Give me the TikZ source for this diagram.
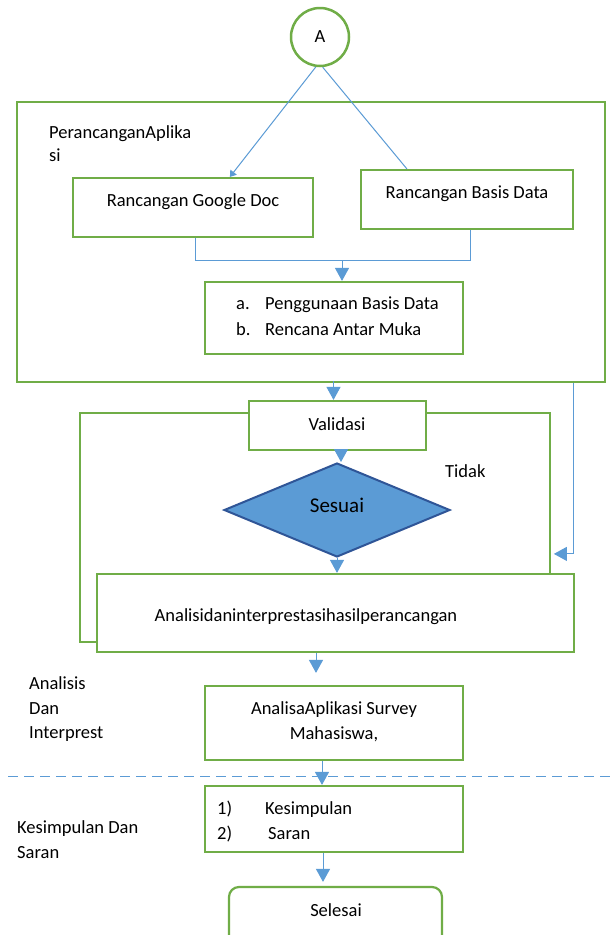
\documentclass[tikz,border=0pt]{standalone}
\usepackage{fontspec}
\setmainfont{Carlito}
\usetikzlibrary{shapes.geometric,arrows.meta,calc}
\definecolor{gr}{HTML}{70AD47}
\definecolor{bl}{HTML}{5B9BD5}
\definecolor{dbl}{HTML}{2F5597}
\begin{document}
\begin{tikzpicture}[x=1pt,y=-1pt,
  gbox/.style={draw=gr,line width=2.2pt,fill=white,rectangle,inner sep=0pt},
  gline/.style={draw=gr,line width=2.2pt},
  conn/.style={draw=bl,line width=1pt},
  arr/.style={conn,-{Triangle[width=14pt,length=13pt]}},
  txt/.style={font=\fontsize{18.5}{24}\selectfont,inner sep=0pt},
  ]
\clip (0,0) rectangle (614,935);
\fill[white] (0,0) rectangle (614,935);
% outer box
\node[gbox,fill=none,minimum width=588pt,minimum height=280pt] (outer) at (311,242) {};
% start circle
\node[circle,draw=gr,line width=2.5pt,fill=white,minimum size=58pt,inner sep=0pt,txt] (A) at (320,37) {A};
% boxes
\node[gbox,minimum width=240pt,minimum height=59pt] (gd) at (193,207.5) {};
\node[gbox,minimum width=212pt,minimum height=59pt] (bd) at (467,199.5) {};
\node[gbox,minimum width=258pt,minimum height=72pt] (list) at (334,318) {};
\node[gbox,minimum width=177pt,minimum height=49pt] (val) at (337.5,425.5) {};
\node[diamond,draw=dbl,line width=2pt,fill=bl,minimum width=226pt,minimum height=94pt,inner sep=0pt] (dia) at (337,510) {};
\node[gbox,minimum width=477pt,minimum height=78pt] (an) at (335.5,613) {};
\node[gbox,minimum width=258pt,minimum height=74pt] (aa) at (334,723) {};
\node[gbox,minimum width=258pt,minimum height=66pt] (ks) at (334,819) {};
\node[gbox,rounded corners=10pt,minimum width=213pt,minimum height=60pt] (sel) at (335.5,917) {};
% connectors
\draw[conn,-{Triangle[width=8pt,length=6pt]}] (A.262) -- ($(gd.north west)+(158,0)$);
\draw[conn] (A.275) -- ($(bd.north west)+(47,0)$);
\draw[conn] ($(gd.south)+(2,0)$) |- ($(bd.south)+(3,30)$) -- ($(bd.south)+(3,0)$);
\draw[arr] ($(list.north)+(8,-20)$) -- ($(list.north)+(8,0)$);
\draw[arr] ($(val.north)+(-4,-19)$) -- ($(val.north)+(-4,0)$);
\draw[arr] ($(val.south)+(3.5,0)$) -- ($(dia.north)+(4,0)$);
\draw[arr] (dia.south) -- (dia.south |- an.north);
\draw[arr] ($(outer.south west)+(558,0)$) |- ($(an.north west)+(458,-19)$);
\draw[gline] ($(val.north west)+(0,13)$) -| ($(an.south west)+(-16,-11)$) -- ($(an.south west)+(0,-11)$);
\draw[gline] ($(val.north east)+(0,13)$) -| ($(an.north west)+(454,0)$);
\draw[arr] ($(an.south)+(-19.5,0)$) -- ($(aa.north)+(-18,-12)$);
\draw[arr] ($(aa.south)+(-12,0)$) -- ($(ks.north)+(-12,0)$);
\draw[arr] ($(ks.south)+(-11,0)$) -- ($(sel.north)+(-12.5,-4)$);
\coordinate (dl) at (8,776);
\coordinate (dr) at (614,776);
\draw[conn,dash pattern=on 10pt off 6pt] (dl) -- (dr);
% texts
\node[txt,anchor=base west] (t1) at (49,138) {PerancanganAplika};
\node[txt,anchor=base west] (t2) at (49,161) {si};
\node[txt,anchor=base] (tgd) at (193,206) {Rancangan Google Doc};
\node[txt,anchor=base] (tbd) at (467,198) {Rancangan Basis Data};
\node[txt,anchor=base west] (la) at (236,309.5) {a.};
\node[txt,anchor=base west] (lat) at (265,309.5) {Penggunaan Basis Data};
\node[txt,anchor=base west] (lb) at (236,335) {b.};
\node[txt,anchor=base west] (lbt) at (265,335) {Rencana Antar Muka};
\node[txt,anchor=base] (tval) at (337,430) {Validasi};
\node[txt,anchor=base west] (tid) at (445,477) {Tidak};
\node[txt,font=\fontsize{21}{24}\selectfont,anchor=base] (tses) at (337,512) {Sesuai};
\node[txt,anchor=base] (tan) at (306,621) {Analisidaninterprestasihasilperancangan};
\node[txt,anchor=base] (taa1) at (334,714) {AnalisaAplikasi Survey};
\node[txt,anchor=base] (taa2) at (334,739) {Mahasiswa,};
\node[txt,anchor=base west] (l1) at (29,689) {Analisis};
\node[txt,anchor=base west] (l2) at (29,714) {Dan};
\node[txt,anchor=base west] (l3) at (29,738) {Interprest};
\node[txt,anchor=base west] (k1) at (217,814) {1)};
\node[txt,anchor=base west] (k1t) at (265,814) {Kesimpulan};
\node[txt,anchor=base west] (k2) at (217,839) {2)};
\node[txt,anchor=base west] (k2t) at (268,839) {Saran};
\node[txt,anchor=base west] (ks1) at (17,833) {Kesimpulan Dan};
\node[txt,anchor=base west] (ks2) at (17,858) {Saran};
\node[txt,anchor=base] (tsel) at (336,916) {Selesai};
\end{tikzpicture}
\end{document}
